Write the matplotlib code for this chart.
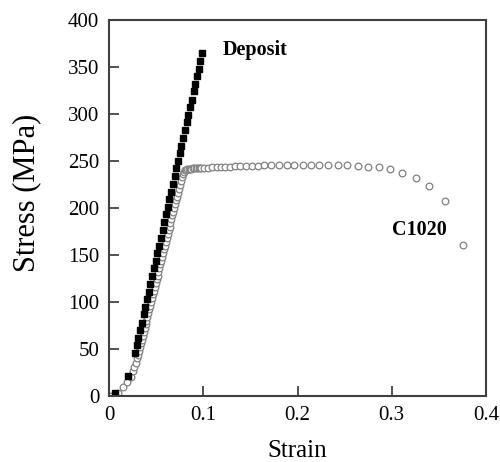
import matplotlib
matplotlib.use("Agg")
import matplotlib.pyplot as plt

plt.rcParams['font.family'] = ['Liberation Serif', 'DejaVu Serif']

# ----------------------------------
# data
# ----------------------------------
deposit_strain = [0.006, 0.020, 0.0276, 0.0294, 0.0312, 0.0330, 0.0348, 0.0368,
                  0.0386, 0.0404, 0.0422, 0.0439, 0.0459, 0.0477, 0.0495, 0.0513,
                  0.0531, 0.0549, 0.0569, 0.0587, 0.0605, 0.0623, 0.0641, 0.0659,
                  0.0676, 0.0697, 0.0714, 0.0732, 0.0750, 0.0768, 0.0786, 0.0806,
                  0.0824, 0.0842, 0.0860, 0.0878, 0.0898, 0.0916, 0.0934, 0.0952,
                  0.0970, 0.0990]
deposit_stress = [3, 21, 46, 54, 62, 70, 78, 87,
                  95, 103, 111, 119, 128, 136, 144, 152,
                  160, 168, 177, 185, 193, 201, 209, 217,
                  225, 234, 242, 250, 258, 266, 274, 283,
                  291, 299, 307, 315, 324, 332, 340, 348,
                  356, 365]

c1020_strain = [0.001, 0.0099, 0.0152, 0.0194, 0.0230, 0.0250, 0.0268, 0.0286,
                0.0300, 0.0310, 0.0319, 0.0329, 0.0339, 0.0349, 0.0358, 0.0368,
                0.0378, 0.0388, 0.0397, 0.0407, 0.0417, 0.0427, 0.0436, 0.0446,
                0.0456, 0.0466, 0.0476, 0.0485, 0.0495, 0.0505, 0.0515, 0.0524,
                0.0534, 0.0544, 0.0554, 0.0563, 0.0573, 0.0583, 0.0593, 0.0603,
                0.0612, 0.0622, 0.0632, 0.0642, 0.0651, 0.0661, 0.0671, 0.0681,
                0.0690, 0.0700, 0.0710, 0.0720, 0.0729, 0.0739, 0.0749, 0.0762,
                0.0772, 0.0782, 0.0793, 0.0805, 0.0818, 0.0832, 0.0846, 0.0860,
                0.0875, 0.0890, 0.0905, 0.0920, 0.0935, 0.0950, 0.0963, 0.0976,
                0.1008, 0.1054, 0.1096, 0.1143, 0.1185, 0.1231, 0.1284, 0.1337,
                0.1390, 0.1454, 0.1514, 0.1578, 0.1648, 0.1719, 0.1804, 0.1885,
                0.1966, 0.2055, 0.2143, 0.2231, 0.2327, 0.2426, 0.2525, 0.2646,
                0.2750, 0.2870, 0.2980, 0.3110, 0.3257, 0.3400, 0.3570, 0.3760]
c1020_stress = [0, 3.5, 9, 15, 20.5, 26, 30.5, 35,
                40, 44, 48, 52, 56, 60, 64, 68,
                72, 76, 80, 84, 88, 92, 96, 100,
                104, 108, 112, 116, 120, 124, 128, 132,
                136, 140, 144, 148, 152, 156, 160, 164,
                168, 172, 176, 180, 184, 188, 192, 196,
                200, 204, 208, 212, 216, 220, 224, 229,
                233, 236, 238.5, 240, 240.8, 241.2, 241.5, 241.7,
                241.9, 242, 242.1, 242.2, 242.3, 242.4, 242.5, 242.6,
                242.7, 242.9, 243.1, 243.3, 243.5, 243.7, 243.9, 244.1,
                244.3, 244.5, 244.7, 244.9, 245.1, 245.3, 245.5, 245.6,
                245.7, 245.8, 245.9, 246, 246, 245.9, 245.7, 245,
                244, 243, 241, 237.5, 232, 223, 207, 160.6]

x_ticks = [0, 0.1, 0.2, 0.3, 0.4]
x_labels = ['0', '0.1', '0.2', '0.3', '0.4']
y_ticks = [0, 50, 100, 150, 200, 250, 300, 350, 400]

# ----------------------------------
# plot
# ----------------------------------
fig = plt.figure(figsize=(5, 4.62), dpi=100)
ax = fig.add_axes([0.218, 0.143, 0.754, 0.814])

ax.plot(c1020_strain, c1020_stress, linestyle='none', marker='o',
        markersize=4.8, markerfacecolor='white', markeredgecolor='#808080',
        markeredgewidth=0.9)
ax.plot(deposit_strain, deposit_stress, linestyle='none', marker='s',
        markersize=5.0, color='black')

ax.text(0.1206, 368, 'Deposit', fontsize=14.5, fontweight='bold', va='center')
ax.text(0.300, 176.6, 'C1020', fontsize=14.5, fontweight='bold', va='center')

ax.set_xlim(0, 0.4)
ax.set_ylim(0, 400)
ax.set_xticks(x_ticks)
ax.set_xticklabels(x_labels)
ax.set_yticks(y_ticks)
ax.tick_params(direction='in', length=7, width=1.2, labelsize=15, pad=7,
               top=False, right=False, colors='#333333', labelcolor='black')

for s in ax.spines.values():
    s.set_linewidth(1.5)
    s.set_color('#404040')

ax.set_xlabel('Strain', fontsize=18)
ax.set_ylabel('Stress (MPa)', fontsize=22)
ax.xaxis.set_label_coords(0.5, -0.118)
ax.yaxis.set_label_coords(-0.179, 0.541)

fig.savefig('out.png', dpi=100)
